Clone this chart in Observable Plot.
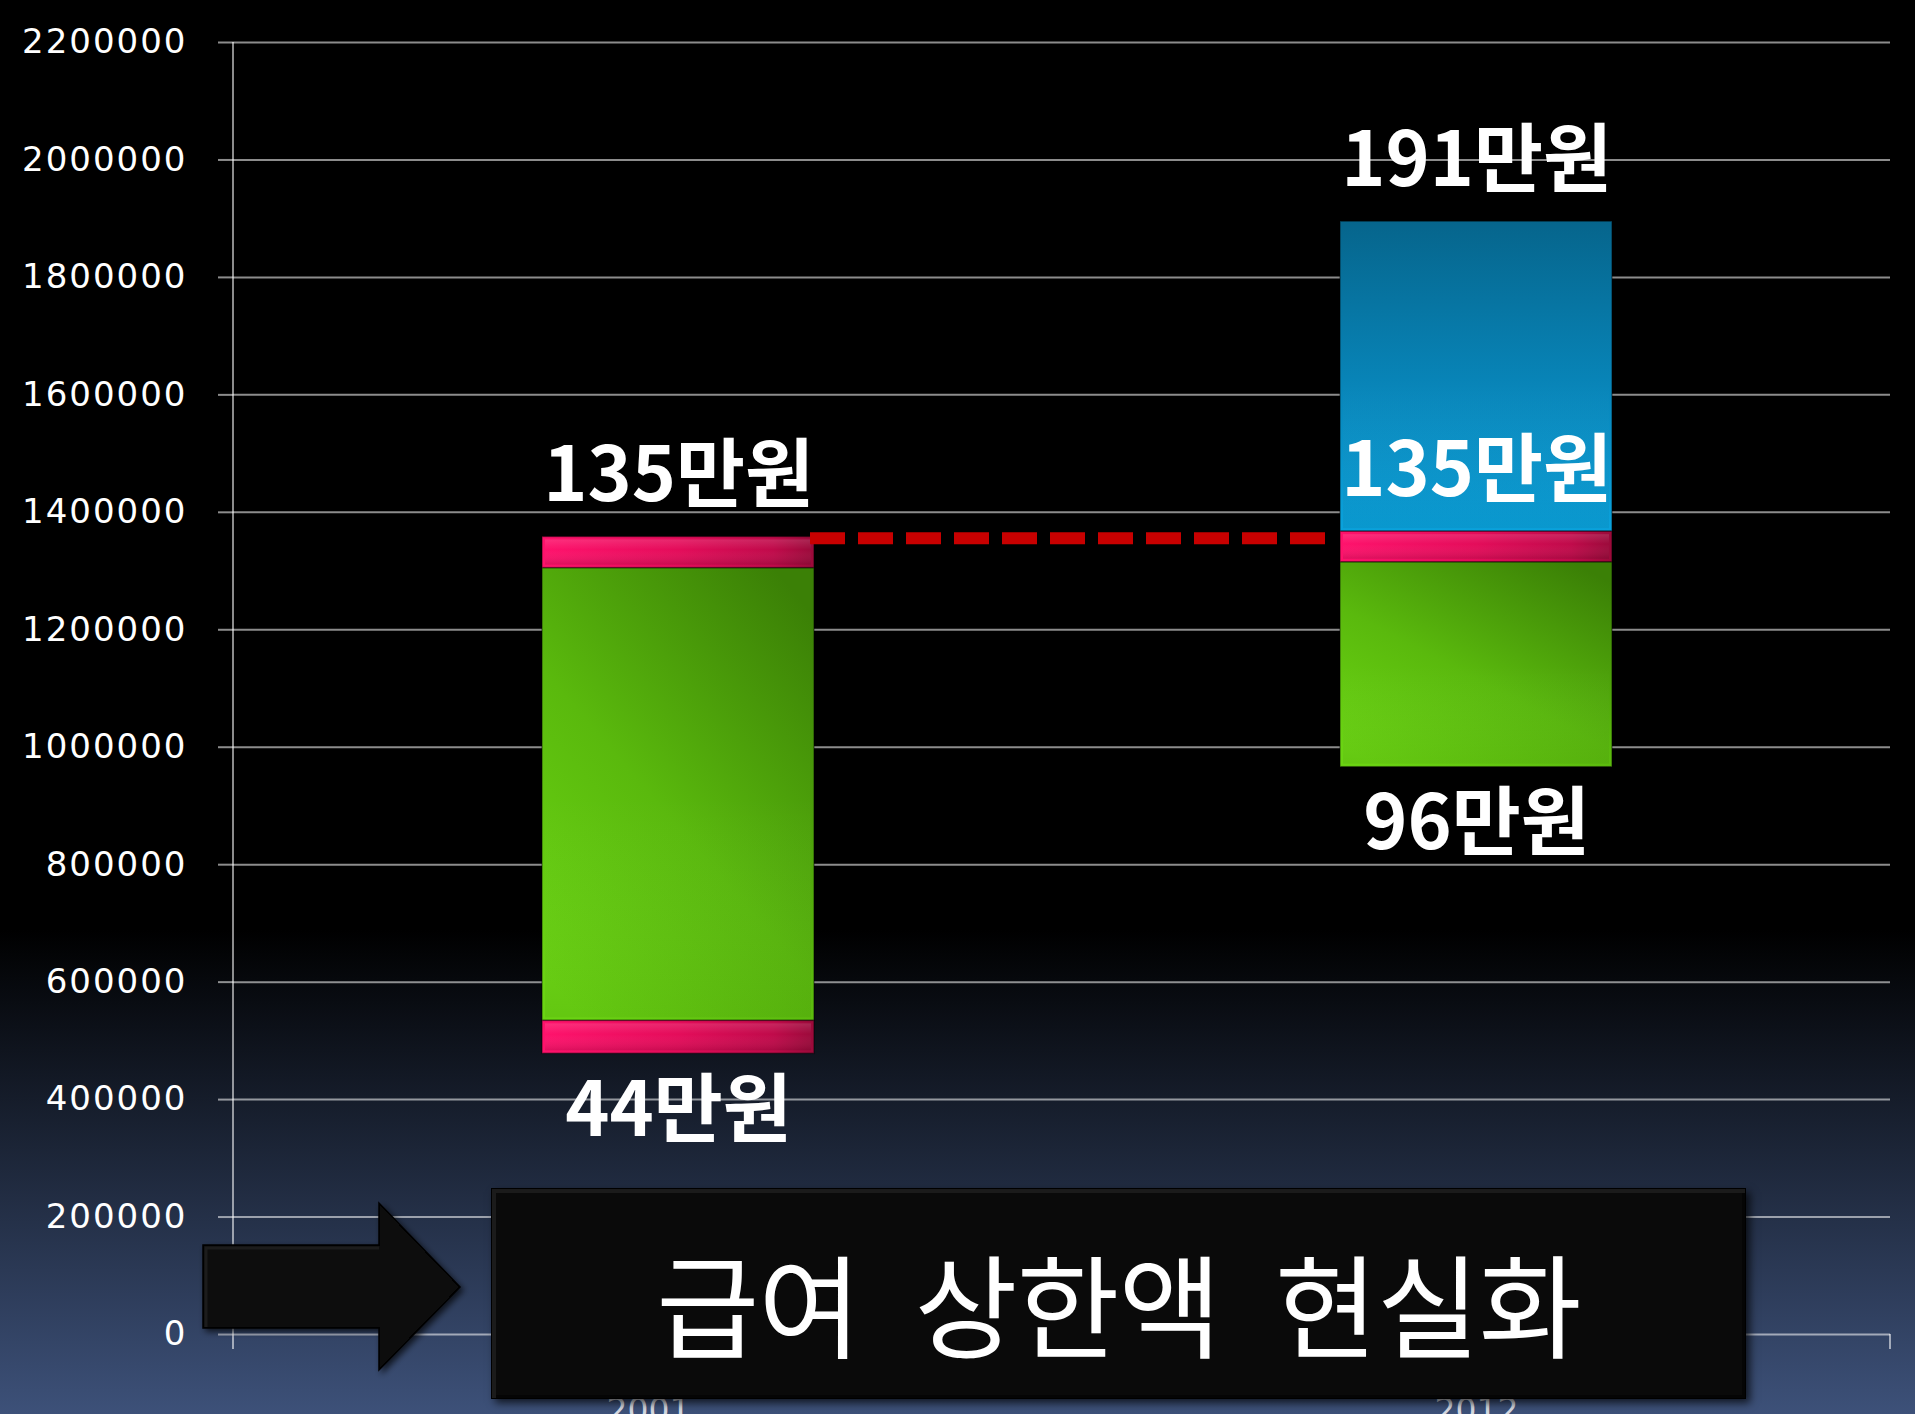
<!DOCTYPE html>
<html>
<head>
<meta charset="utf-8">
<script src="https://cdn.jsdelivr.net/npm/d3@7"></script>
<script src="https://cdn.jsdelivr.net/npm/@observablehq/plot@0.6"></script>
<style>
html, body { margin: 0; padding: 0; }
body {
  width: 1915px; height: 1414px; overflow: hidden; position: relative;
  background: linear-gradient(to bottom, #000 0px, #000 930px, #3d5179 1414px);
  font-family: "Noto Sans CJK KR", sans-serif;
}
#chart { position: absolute; left: 0; top: 0; }
#arrow { position: absolute; left: 0; top: 0; }
#box {
  position: absolute; left: 491px; top: 1188px; width: 1255px; height: 211px;
  box-sizing: border-box; background: #0a0a0a;
  box-shadow: inset 0 0 0 1px #000, inset 3px 3px 0 2px #1b1b1b, inset -2px -2px 0 2px #050505, 4px 4px 8px rgba(0,0,0,0.7);
  display: flex; align-items: center; justify-content: center; padding-top: 14px;
  color: #fff; font-family: "Noto Sans CJK KR", sans-serif; font-size: 112px; font-weight: 400;
  letter-spacing: -1px; word-spacing: 30px; white-space: nowrap;
}
</style>
</head>
<body>
<div id="chart"></div>
<svg id="arrow" width="1915" height="1414">
  <defs>
    <filter id="ashadow" x="-20%" y="-20%" width="140%" height="140%">
      <feDropShadow dx="3" dy="3" stdDeviation="3" flood-color="#000" flood-opacity="0.7"/>
    </filter>
  </defs>
  <polygon points="203,1245 379,1245 379,1203 460,1287 379,1370 379,1328 203,1328" fill="#0a0a0a" stroke="#000" stroke-width="1.5" filter="url(#ashadow)"/>
  <polyline points="206,1327 206,1248 379,1248" fill="none" stroke="#1c1c1c" stroke-width="3"/>
</svg>
<div id="box">급여 상한액 현실화</div>
<script>
// ---- data ----
const categories = ["2001", "2012"];
const segYear = ["2001", "2001", "2001", "2012", "2012", "2012"];
const segLow  = [478000, 534000, 1305000, 966000, 1315000, 1367000];
const segHigh = [534000, 1305000, 1358000, 1315000, 1367000, 1895000];
const segKind = ["cap", "range", "cap", "range", "cap", "raise"];

const labelYear  = ["2001", "2001", "2012", "2012", "2012"];
const labelValue = [1358000, 478000, 1895000, 1367000, 966000];
const labelText  = ["135만원", "44만원", "191만원", "135만원", "96만원"];
const labelSide  = ["above", "below", "above", "above", "below"];

const ceilingValue = 1355000; // dashed line: 2001 upper limit carried over
const yTicks = [0, 200000, 400000, 600000, 800000, 1000000, 1200000, 1400000, 1600000, 1800000, 2000000, 2200000];

// ---- tables ----
const segs = segYear.map((year, i) => ({year, low: segLow[i], high: segHigh[i], kind: segKind[i]}));
const labels = labelYear.map((year, i) => ({year, value: labelValue[i], text: labelText[i], side: labelSide[i]}));

const shift = {"2001": 30, "2012": 0}; // horizontal nudge of each column
const inset = 278;
const fills = {cap: "url(#gPink)", range: "url(#gGreen)", raise: "url(#gBlue)"};

const barMarks = [];
for (const yr of categories) {
  for (const kind of ["range", "raise", "cap"]) {
    const d = segs.filter(s => s.year === yr && s.kind === kind);
    if (!d.length) continue;
    barMarks.push(Plot.barY(d, {
      x: "year", y1: "low", y2: "high", fill: fills[kind],
      insetLeft: inset, insetRight: inset, dx: shift[yr],
      stroke: "#000", strokeOpacity: 0.4, strokeWidth: 1.5
    }));
    barMarks.push(Plot.barY(d, {
      x: "year", y1: "low", y2: "high", fill: kind === "cap" ? "url(#gCapShine)" : "url(#gShine)",
      insetLeft: inset + 3, insetRight: inset + 3, insetTop: 3, insetBottom: 3, dx: shift[yr]
    }));
  }
}
const textMarks = [];
for (const yr of categories) {
  for (const side of ["above", "below"]) {
    const d = labels.filter(l => l.year === yr && l.side === side);
    if (!d.length) continue;
    textMarks.push(Plot.text(d, {
      x: "year", y: "value", text: "text", dx: shift[yr], dy: side === "above" ? -60 : 58,
      fill: "white", fontSize: 75, fontWeight: "bold", fontFamily: "Noto Sans CJK KR"
    }));
  }
}

const plot = Plot.plot({
  width: 1915, height: 1414,
  marginTop: 42, marginBottom: 80, marginLeft: 233, marginRight: 25,
  style: {background: "transparent", color: "white", fontFamily: "DejaVu Sans"},
  x: {domain: categories, padding: 0, label: null},
  y: {domain: [0, 2200000], label: null},
  marks: [
    Plot.gridY(yTicks, {stroke: "white", strokeOpacity: 0.55, strokeWidth: 2}),
    Plot.axisY(yTicks, {tickFormat: d3.format("d"), tickSize: 15, tickPadding: 31, fontSize: 34,
      fontFamily: "DejaVu Sans", fill: "white", stroke: "white", strokeOpacity: 0.55, strokeWidth: 2, label: null}),
    Plot.axisX({tickSize: 0, tickPadding: 64, fontSize: 33, fontFamily: "DejaVu Sans", fill: "#d5d8e0", label: null}),
    ...barMarks,
    ...textMarks
  ]
});
document.getElementById("chart").appendChild(plot);

// ---- gradients, axis line and dashed ceiling, placed through the plot's scales ----
const svg = d3.select(plot);
svg.selectAll("[aria-label='y-axis tick label'] text").style("letter-spacing", "2px");
const defs = svg.insert("defs", ":first-child");
function grad(id, x1, y1, x2, y2, stops) {
  const g = defs.append("linearGradient").attr("id", id)
    .attr("x1", x1).attr("y1", y1).attr("x2", x2).attr("y2", y2);
  for (const [o, c, a] of stops) g.append("stop").attr("offset", o).attr("stop-color", c).attr("stop-opacity", a ?? 1);
}
grad("gPink", 0, 0, 1, 0, [[0, "#ff126c"], [0.5, "#e40c5a"], [0.85, "#c00a4a"], [1, "#9a0a3a"]]);
grad("gGreen", 0.15, 1, 0.85, 0, [[0, "#6ad412"], [0.45, "#5ab90d"], [1, "#3b8006"]]);
grad("gBlue", 0, 0, 0, 1, [[0, "#06658c"], [0.55, "#0886ba"], [1, "#0aa2dc"]]);
grad("gShine", 0, 0, 0, 1, [[0, "#ffffff", 0.0], [0.5, "#ffffff", 0.0], [1, "#000000", 0.06]]);
grad("gCapShine", 0, 0, 0, 1, [[0, "#ffffff", 0.12], [0.4, "#ffffff", 0.0], [1, "#000000", 0.12]]);

const xs = plot.scale("x"), ys = plot.scale("y");
const bw = xs.bandwidth;
const y0 = ys.apply(0), yTop = ys.apply(yTicks[yTicks.length - 1]);
const over = svg.append("g");
// left axis line
over.append("line").attr("x1", xs.range[0]).attr("x2", xs.range[0]).attr("y1", yTop).attr("y2", y0 + 15)
  .attr("stroke", "white").attr("stroke-opacity", 0.55).attr("stroke-width", 2);
// category boundary ticks
for (const xv of [xs.apply(categories[1]), xs.range[1]]) {
  over.append("line").attr("x1", xv).attr("x2", xv).attr("y1", y0).attr("y2", y0 + 15)
    .attr("stroke", "white").attr("stroke-opacity", 0.55).attr("stroke-width", 2);
}
// dashed ceiling line from 2001 column to 2012 column
const xa = xs.apply("2001") + shift["2001"] + bw - inset;
const xb = xs.apply("2012") + shift["2012"] + inset - 10;
over.append("line").attr("x1", xa - 4).attr("x2", xb).attr("y1", ys.apply(ceilingValue)).attr("y2", ys.apply(ceilingValue))
  .attr("stroke", "#c80000").attr("stroke-width", 12).attr("stroke-dasharray", "35,13");
</script>
</body>
</html>
